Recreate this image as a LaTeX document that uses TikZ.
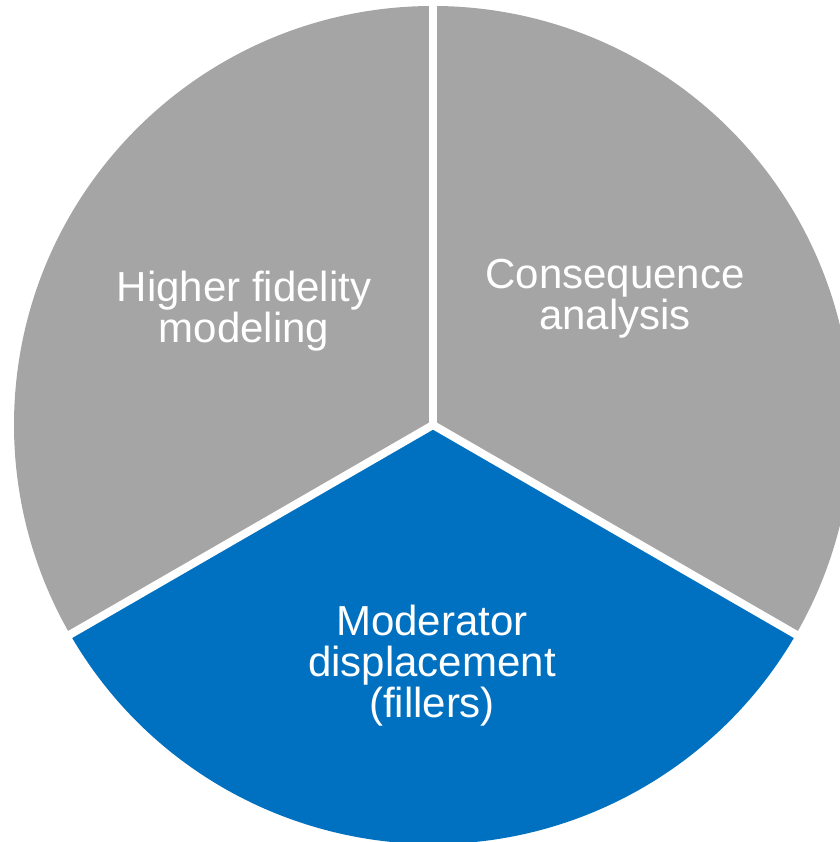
\documentclass[tikz,border=0pt]{standalone}
\usepackage{fontspec}
\setmainfont{Liberation Sans}
\usetikzlibrary{calc}
\definecolor{piegray}{HTML}{A5A5A5}
\definecolor{pieblue}{HTML}{0070C0}
\begin{document}
\begin{tikzpicture}[x=1pt,y=1pt,
  divider/.style={draw=white,line width=8pt},
  label/.style={text=white,align=center,inner sep=0pt,anchor=base,
    font=\fontsize{42}{41}\selectfont}]
\useasboundingbox (0,0) rectangle (839,842);
\coordinate (c) at (433,417);
% three equal slices
\fill[piegray] (c) -- ++(90:419) arc[start angle=90,end angle=210,radius=419] -- cycle;
\fill[piegray] (c) -- ++(-30:419) arc[start angle=-30,end angle=90,radius=419] -- cycle;
\fill[pieblue] (c) -- ++(210:419) arc[start angle=210,end angle=330,radius=419] -- cycle;
% white gaps between slices
\coordinate (e1) at ($(c)+(90:425)$);
\coordinate (e2) at ($(c)+(210:425)$);
\coordinate (e3) at ($(c)+(330:425)$);
\draw[divider] (c) -- (e1);
\draw[divider] (c) -- (e2);
\draw[divider] (c) -- (e3);
% labels, anchored on the baseline of their last line
\node[label] (hf) at (244,499) {Higher fidelity\\modeling};
\node[label] (ca) at (615,512) {Consequence\\analysis};
\node[label] (md) at (432,124) {Moderator\\displacement\\(fillers)};
\end{tikzpicture}
\end{document}
